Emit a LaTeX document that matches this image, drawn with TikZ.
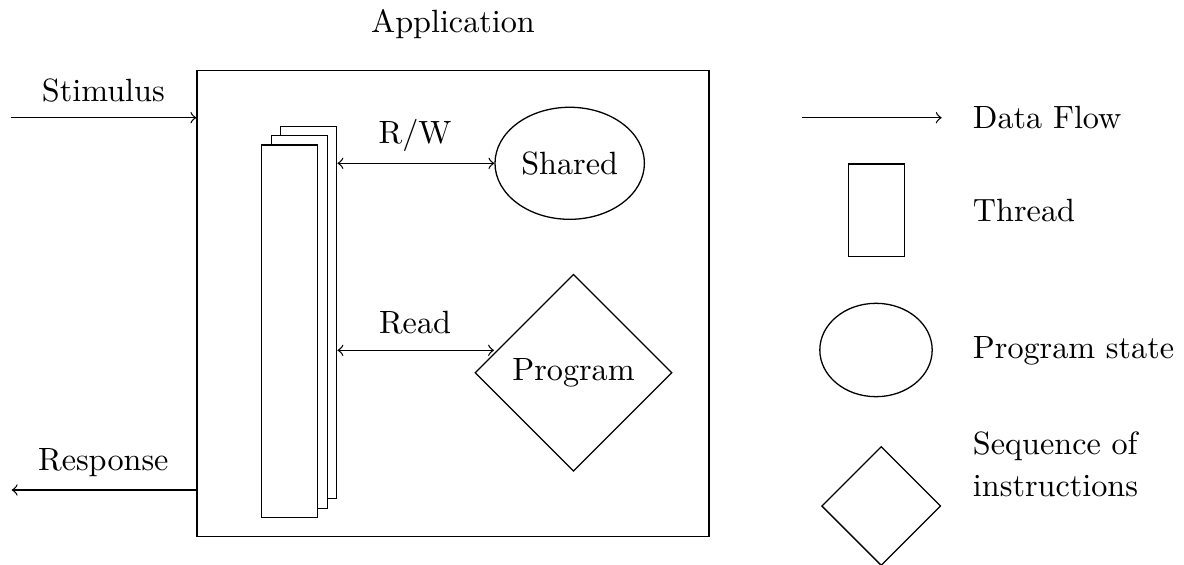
\documentclass[tikz,border=0pt]{standalone}
\usetikzlibrary{shapes.geometric}
\tikzset{
  flow/.style={->},
  both/.style={<->},
  threadbox/.style={draw, rectangle, inner sep=0pt, minimum width=17.4pt, minimum height=115.7pt},
  statebox/.style={draw, ellipse, inner sep=0pt},
  progbox/.style={draw, diamond, inner sep=0pt, aspect=1},
  lbl/.style={anchor=base, inner sep=0pt},
  legendtext/.style={anchor=base west, inner sep=0pt, align=left},
}
\begin{document}
\begin{tikzpicture}[x={(0.31056pt,0pt)}, y={(0pt,-0.31056pt)}]
  \useasboundingbox (0,0) rectangle (1184,565);

  % application boundary
  \node[draw, rectangle, inner sep=0pt, minimum width=159.0pt, minimum height=144.7pt] (app) at (453,303.7) {};
  \node[lbl] (apptitle) at (453,33) {Application};

  % stack of threads
  \node[threadbox] (t3) at (308.8,312.5) {};
  \node[threadbox, fill=white] (t2) at (299.2,321.9) {};
  \node[threadbox, fill=white] (t1) at (289.7,331.3) {};

  % program state and program
  \node[statebox, minimum width=46.4pt, minimum height=34.8pt] (shared) at (569.7,163.3) {Shared};
  \node[progbox, minimum width=61.2pt, minimum height=61.2pt] (prog) at (573.5,372.7) {Program};

  % external stimulus and response
  \coordinate (stimin) at (10.7,117.7);
  \coordinate (respout) at (11.7,490);
  \draw[flow] (stimin) -- (stimin -| app.west);
  \draw[flow] (respout -| app.west) -- (respout);
  \node[lbl] (stimlbl) at (103.3,101.7) {Stimulus};
  \node[lbl] (resplbl) at (103.3,470.7) {Response};

  % thread accesses
  \draw[both] (shared.west -| t3.east) -- (shared.west);
  \coordinate (readend) at (494,350.3);
  \draw[both] (readend -| t3.east) -- (readend);
  \node[lbl] (rwlbl) at (415,144) {R/W};
  \node[lbl] (readlbl) at (415,333.3) {Read};

  % legend
  \coordinate (df1) at (801.7,117.7);
  \coordinate (df2) at (941.7,117.7);
  \draw[flow] (df1) -- (df2);
  \node[legendtext] (ldf) at (972.3,128.8) {Data Flow};

  \node[draw, rectangle, inner sep=0pt, minimum width=17.4pt, minimum height=28.8pt] (lthread) at (876.3,210.3) {};
  \node[legendtext] (lthreadtxt) at (972.3,221.5) {Thread};

  \node[statebox, minimum width=34.9pt, minimum height=29.0pt] (lstate) at (876,350) {};
  \node[legendtext] (lstatetxt) at (972.3,358.3) {Program state};

  \node[progbox, minimum width=37.0pt, minimum height=37.0pt] (lprog) at (881.2,506) {};
  \node[legendtext] (lprogtxt) at (972.3,496.7) {Sequence of\\[1.24pt]instructions};
\end{tikzpicture}
\end{document}
